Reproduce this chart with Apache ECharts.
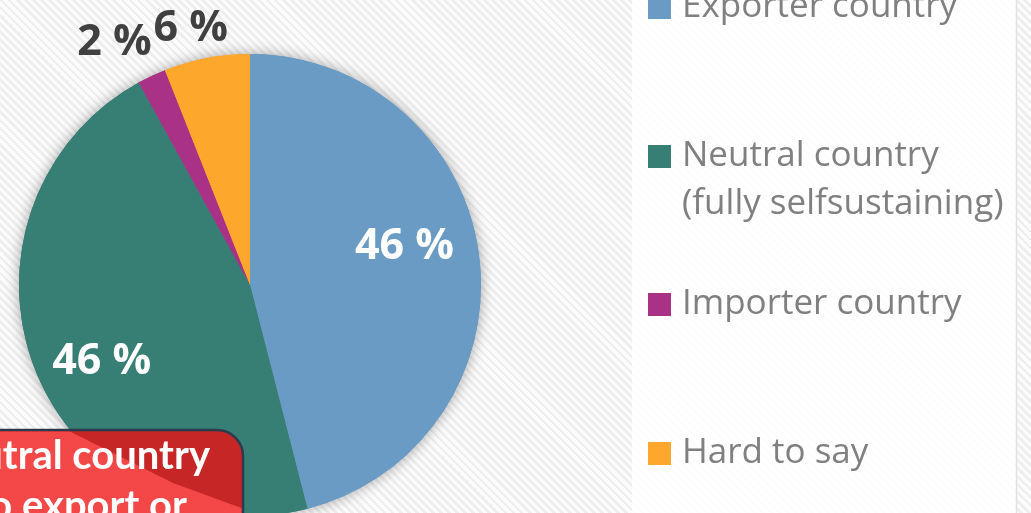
<!DOCTYPE html>
<html>
<head>
<meta charset="utf-8">
<script src="https://cdn.jsdelivr.net/npm/echarts@6/dist/echarts.min.js"></script>
<style>
  html, body { margin: 0; padding: 0; }
  #main {
    width: 1031px; height: 513px;
    background: repeating-linear-gradient(45deg, #fcfcfc 0px, #fcfcfc 3px, #eeeeee 3px, #eeeeee 5.7px);
  }
</style>
</head>
<body>
<div id="main"></div>
<script>
// 数据
const categories = ["Exporter country", "Neutral country\n(fully selfsustaining)", "Importer country", "Hard to say"];
const shares = [46, 46, 2, 6];
const colors = ["#6a9bc4", "#377f75", "#a93287", "#fda72d"];

// 标签样式（位置偏移、颜色）
const labelColors = ["#ffffff", "#ffffff", "#404040", "#404040"];
const labelOffsets = [[37, -23], [-38, 33], [-85, -135], [-37, -140]];
// 图例位置
const legendTops = [-21.5, 79.5, 275.5, 424.5];

const chart = echarts.init(document.getElementById("main"));

const pieData = categories.map(function (name, i) {
  return {
    name: name,
    value: shares[i],
    itemStyle: { color: colors[i] },
    label: { color: labelColors[i], offset: labelOffsets[i] }
  };
});

const legends = categories.map(function (name, i) {
  return {
    data: [name],
    left: 643,
    top: legendTops[i],
    orient: "vertical",
    icon: "rect",
    itemWidth: 23,
    itemHeight: 23,
    selectedMode: false,
    // 多行名称：首行与色块对齐
    formatter: function (n) { return n.indexOf("\n") >= 0 ? "\n" + n : n; },
    textStyle: {
      fontFamily: "Open Sans",
      fontSize: 35,
      color: "#808080",
      lineHeight: 48,
      padding: [0, 0, 0, 6]
    }
  };
});

chart.setOption({
  backgroundColor: "transparent",
  animation: false,
  legend: legends,
  graphic: [
    // 图例底板
    {
      type: "rect", z: 1, silent: true,
      shape: { x: 632, y: -2, width: 384, height: 520 },
      style: { fill: "rgba(255,255,255,0.85)" }
    },
    {
      type: "line", z: 1, silent: true,
      shape: { x1: 1016.5, y1: 0, x2: 1016.5, y2: 513 },
      style: { stroke: "#e2e2e2", lineWidth: 1.5 }
    },
    // 红色标注框
    {
      type: "rect", z: 100, silent: true,
      shape: { x: -60, y: 430, width: 303, height: 120, r: [0, 26, 0, 0] },
      style: { fill: "#c72626", stroke: "#2b3b4e", lineWidth: 2.5 }
    },
    {
      type: "polygon", z: 101, silent: true,
      shape: { points: [[-10, 431.5], [70, 431.5], [127, 460], [173, 483], [241.5, 508], [241.5, 520], [-10, 520]] },
      style: { fill: "#f44848" }
    },
    {
      type: "text", z: 102, silent: true,
      style: {
        x: 210, y: 456, text: "Neutral country", align: "right", verticalAlign: "middle",
        fill: "#ffffff", font: "bold 40px Lato"
      }
    },
    {
      type: "text", z: 102, silent: true,
      style: {
        x: 187, y: 506, text: "no export or", align: "right", verticalAlign: "middle",
        fill: "#ffffff", font: "bold 40px Lato"
      }
    }
  ],
  series: [
    // 阴影层
    {
      type: "pie",
      silent: true,
      center: [250, 285],
      radius: 231,
      startAngle: 90,
      label: { show: false },
      labelLine: { show: false },
      itemStyle: { shadowBlur: 14, shadowColor: "rgba(0,0,0,0.35)" },
      data: pieData.map(function (d) { return { name: d.name, value: d.value, itemStyle: d.itemStyle }; })
    },
    {
      type: "pie",
      center: [250, 285],
      radius: 231,
      startAngle: 90,
      avoidLabelOverlap: false,
      label: {
        show: true,
        position: "inside",
        formatter: "{c} %",
        fontFamily: "Open Sans",
        fontWeight: "bold",
        fontSize: 43
      },
      labelLine: { show: false },
      data: pieData
    }
  ]
});
</script>
</body>
</html>
